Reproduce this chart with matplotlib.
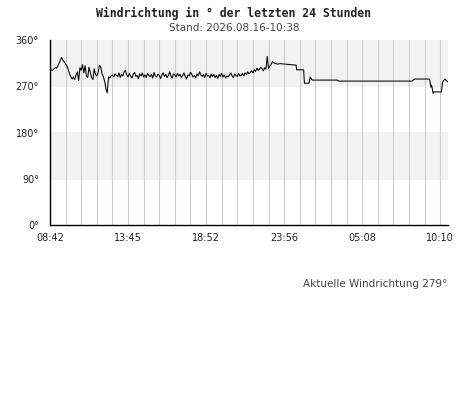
#!/usr/bin/env python3
"""
Windrichtung der letzten 24 Stunden - Liniendiagramm
"""

import numpy as np
import matplotlib
matplotlib.use("Agg")
import matplotlib.pyplot as plt

# Beschriftungen
titel = "Windrichtung in ° der letzten 24 Stunden"
untertitel = "Stand: 2026.08.16-10:38"
aktuell = "Aktuelle Windrichtung 279°"
zeit_labels = ["08:42", "13:45", "18:52", "23:56", "05:08", "10:10"]
zeit_ticks = [0, 5, 10, 15, 20, 25]
grad_ticks = [0, 90, 180, 270, 360]
grad_labels = ["0°", "90°", "180°", "270°", "360°"]

# unruhiger Teil: ein Wert je Messintervall (12 je Rasterfeld)
richtung_unruhig = [
    300, 302, 301, 304, 306, 305, 309, 315, 321, 326,
    320, 317, 313, 310, 303, 294, 289, 284, 288, 283,
    292, 298, 281, 306, 301, 312, 296, 310, 290, 287,
    307, 297, 287, 283, 304, 293, 290, 296, 311, 308,
    294, 289, 280, 265, 257, 288, 286,
    290, 292, 288, 294, 291, 289, 296, 287, 293, 290,
    298, 301, 292, 288, 295, 290, 286, 293, 297, 289,
    291, 285, 294, 290, 296, 288, 292, 287, 295, 291,
    289, 293, 286, 297, 290, 288, 294, 291, 285, 292,
    296, 289, 293, 287, 291, 298, 290, 286, 294, 292,
    288, 295, 290, 293, 287, 291, 296, 289, 284, 292,
    290, 297, 293, 288, 291, 286, 294, 290, 298, 292,
    289, 293, 287, 295, 290, 291, 286, 294, 289, 293,
    287, 291, 285, 293, 289, 295, 288, 292, 286, 290,
    288, 292, 296, 290, 287, 294, 291, 289, 295, 290,
    291, 295, 290, 296, 293, 298, 294, 297, 300, 296,
    302, 299, 305, 301, 303, 307, 304, 300, 306,
    303, 328, 305, 309, 312, 318, 316, 314, 314, 313,
]

# ruhiger Teil: Stufen (Position in Rasterfeldern, Grad)
stufen_x = [14.74, 15.77, 15.8, 16.25, 16.3, 16.6, 16.67, 16.8, 18.4, 18.5,
            23.2, 23.35, 24.3, 24.35, 24.4, 24.45, 24.55, 24.6, 25.08, 25.15,
            25.3, 25.5]
stufen_y = [314, 311, 302, 302, 276, 276, 288, 282, 282, 280,
            280, 284, 284, 279, 268, 272, 256, 259, 259, 278,
            284, 278]

x = np.concatenate([np.arange(len(richtung_unruhig)) / 12.0, stufen_x])
y = np.concatenate([richtung_unruhig, stufen_y])

fig = plt.figure(figsize=(4.68, 4.15), dpi=100)
ax = fig.add_axes([50 / 468, 190 / 415, 398 / 468, 185 / 415])

# Hintergrundbänder
ax.axhspan(270, 360, color="#f2f2f2", zorder=0)
ax.axhspan(90, 180, color="#f2f2f2", zorder=0)

ax.plot(x, y, color="black", linewidth=0.75, zorder=3)

ax.set_xlim(0, 25.5)
ax.set_ylim(0, 360)
ax.set_xticks(zeit_ticks)
ax.set_xticklabels(zeit_labels)
ax.set_xticks(range(1, 26), minor=True)
ax.set_yticks(grad_ticks)
ax.set_yticklabels(grad_labels)
ax.grid(axis="x", which="both", color="#cccccc", linewidth=0.8, zorder=1)
ax.set_axisbelow(True)

ax.tick_params(axis="both", which="both", length=0, labelsize=7, colors="#222222")
ax.tick_params(axis="y", pad=8)
ax.tick_params(axis="x", pad=6)

for s in ["top", "right"]:
    ax.spines[s].set_visible(False)
for s in ["left", "bottom"]:
    ax.spines[s].set_color("black")
    ax.spines[s].set_linewidth(1.0)

fig.text(234 / 468, 1 - 13 / 415, titel, ha="center", va="center",
         family="DejaVu Sans Mono", fontweight="bold", fontsize=8.3, color="#222222")
fig.text(234 / 468, 1 - 28 / 415, untertitel, ha="center", va="center",
         fontsize=7.5, color="#444444")
fig.text(447 / 468, 1 - 284 / 415, aktuell, ha="right", va="center",
         fontsize=7.5, color="#444444")

fig.savefig("out.png", dpi=100)
